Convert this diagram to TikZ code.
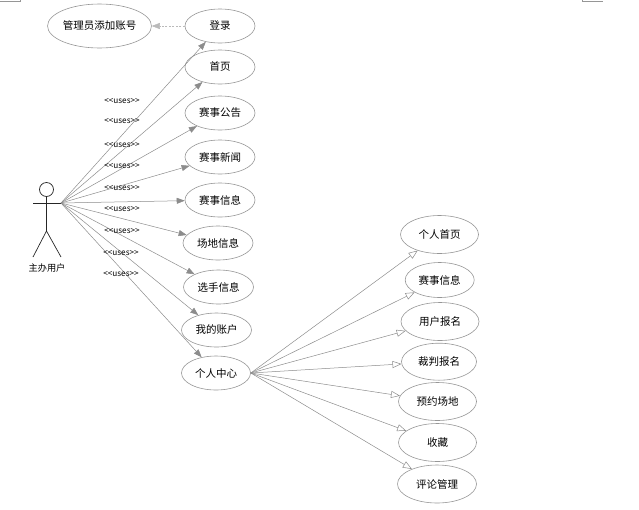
\documentclass[tikz,border=0pt]{standalone}
\usepackage{fontspec}
\newfontfamily\cjk{Noto Sans CJK SC}
\usetikzlibrary{arrows.meta,shapes.geometric}
\definecolor{lnc}{RGB}{140,140,140}
\definecolor{elc}{RGB}{150,150,150}
\begin{document}
\begin{tikzpicture}[x=1pt,y=-1pt,
  uc/.style={draw=elc, line width=0.6pt, ellipse, inner sep=0pt, minimum width=70pt, minimum height=34pt, font=\cjk\fontsize{10.5}{12}\selectfont},
  ucr/.style={uc, minimum width=78pt, minimum height=38pt},
  uselbl/.style={inner sep=0pt, font=\cjk\fontsize{8.2}{9}\selectfont},
  uses/.style={draw=lnc, line width=0.5pt, -{Triangle[length=8pt,width=6pt]}, lnc},
  gen/.style={draw=lnc, line width=0.5pt, -{Triangle[open,length=9pt,width=7pt,fill=white]}},
  actorln/.style={draw=black!85, line width=0.7pt}]
\useasboundingbox (0,0) rectangle (639,509);
% page corner marks
\draw[elc, line width=0.6pt] (0,0.8) -- (20,0.8) -- (20,0);
\draw[elc, line width=0.6pt] (582,0) -- (582,1.2) -- (603,1.2);
% actor
\draw[actorln] (46.5,189.5) circle (7);
\draw[actorln] (33,203) -- (61,203);
\draw[actorln] (46.5,196.5) -- (46.5,231);
\draw[actorln] (33,257) -- (46.5,231) -- (61,257);
\node[inner sep=0pt, font=\cjk\fontsize{9.2}{11}\selectfont] (actorlbl) at (47,268) {主办用户};
\coordinate (hand) at (61,203);
% use cases
\node[uc, minimum width=89pt, minimum height=44pt] (admin) at (99.5,26) {管理员添加账号};
\node[uc] (login) at (220,26) {登录};
\node[uc] (home) at (220,67) {首页};
\node[uc] (notice) at (220,113) {赛事公告};
\node[uc] (news) at (220,157) {赛事新闻};
\node[uc] (info) at (220,200) {赛事信息};
\node[uc] (venue) at (218,243) {场地信息};
\node[uc] (player) at (218.5,287) {选手信息};
\node[uc] (account) at (216.5,330) {我的账户};
\node[uc, minimum width=69pt] (center) at (216,373) {个人中心};
\node[ucr] (p1) at (439.5,234.5) {个人首页};
\node[ucr, minimum width=69pt, minimum height=35pt] (p2) at (439.7,280) {赛事信息};
\node[ucr] (p3) at (440,321.5) {用户报名};
\node[ucr, minimum width=75pt, minimum height=37pt] (p4) at (439,361.7) {裁判报名};
\node[ucr] (p5) at (437.5,401.5) {预约场地};
\node[ucr] (p6) at (437.5,442.5) {收藏};
\node[ucr, minimum width=79pt] (p7) at (437,484) {评论管理};
% dashed
\draw[uses, dashed, dash pattern=on 2pt off 1.5pt, draw=lnc!60] (login) -- (admin);
% uses connectors
\foreach \n in {login,home,notice,news,info,venue,player,account,center}
  \draw[uses] (hand) -- (\n);
\foreach \n in {p1,p2,p3,p4,p5,p6,p7}
  \draw[gen] (center.east) -- (\n);
% labels
\node[uselbl] (l1) at (122,101) {<\kern0pt<uses>\kern0pt>};
\node[uselbl] (l2) at (122,121) {<\kern0pt<uses>\kern0pt>};
\node[uselbl] (l3) at (122,145) {<\kern0pt<uses>\kern0pt>};
\node[uselbl] (l4) at (122,166) {<\kern0pt<uses>\kern0pt>};
\node[uselbl] (l5) at (122,188) {<\kern0pt<uses>\kern0pt>};
\node[uselbl] (l6) at (122,209) {<\kern0pt<uses>\kern0pt>};
\node[uselbl] (l7) at (122,231) {<\kern0pt<uses>\kern0pt>};
\node[uselbl] (l8) at (121,253) {<\kern0pt<uses>\kern0pt>};
\node[uselbl] (l9) at (121,274) {<\kern0pt<uses>\kern0pt>};
\end{tikzpicture}
\end{document}
